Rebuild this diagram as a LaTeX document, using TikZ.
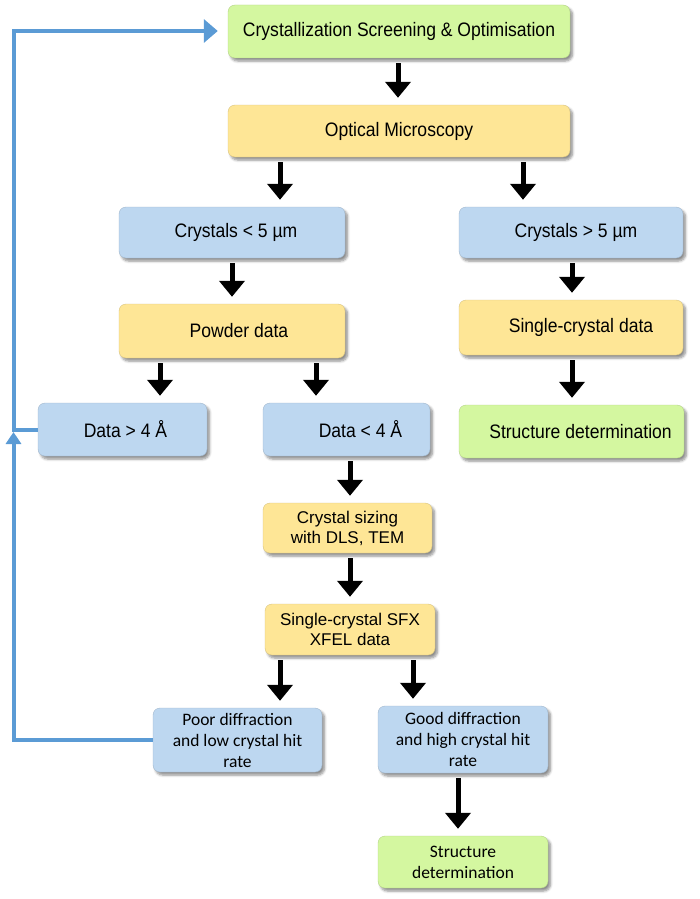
\documentclass[tikz,border=0pt]{standalone}
\usepackage{fontspec}
\setmainfont{Liberation Sans}
\newfontfamily\condfont[FakeStretch=0.9]{Liberation Sans}
\newfontfamily\calfont{Carlito}
\usetikzlibrary{arrows.meta,shadows.blur}
\definecolor{gfill}{RGB}{212,247,160}
\definecolor{yfill}{RGB}{254,230,150}
\definecolor{bfill}{RGB}{189,215,240}
\definecolor{fbline}{RGB}{91,155,213}
\begin{document}
\begin{tikzpicture}[x=1pt,y=-1pt,
  box/.style={rounded corners=7pt, align=center, inner sep=2pt,
    font=\condfont\fontsize{19.5}{22}\selectfont,
    blur shadow={shadow xshift=2.5pt, shadow yshift=-3pt, shadow blur steps=6, shadow blur radius=2.5pt, shadow opacity=45}},
  gbox/.style={box, fill=gfill, draw=gfill!85!black, line width=0.4pt},
  ybox/.style={box, fill=yfill, draw=yfill!85!black, line width=0.4pt},
  bbox/.style={box, fill=bfill, draw=bfill!85!black, line width=0.4pt},
  arialtxt/.style={font=\fontsize{17}{20}\selectfont},
  calitxt/.style={font=\calfont\fontsize{17.5}{21}\selectfont},
  blk/.style={line width=5pt, -{Triangle[width=25pt,length=16pt]}, shorten <=5pt, shorten >=7pt},
  fb/.style={line width=4pt, draw=fbline},
  fbarr/.style={fb, -{Triangle[width=15pt,length=12pt]}}
]
\useasboundingbox (0,0) rectangle (700,899);

\node[gbox, minimum width=342pt, minimum height=53pt] (cs) at (399,31.5) {Crystallization Screening \& Optimisation};
\node[ybox, minimum width=342pt, minimum height=52pt] (om) at (399,131) {Optical Microscopy};
\node[bbox, minimum width=226pt, minimum height=51pt] (cl) at (232,232.5) {\hspace*{8pt}Crystals < 5 µm};
\node[bbox, minimum width=224pt, minimum height=51pt] (cg) at (571,232.5) {\hspace*{10pt}Crystals > 5 µm};
\node[ybox, minimum width=226pt, minimum height=54pt] (pd) at (232,331) {\hspace*{14pt}Powder data};
\node[ybox, minimum width=224pt, minimum height=55pt] (sc) at (571,327.5) {\hspace*{20pt}Single-crystal data};
\node[bbox, minimum width=169pt, minimum height=53pt] (dg) at (122.5,429.5) {\hspace*{6pt}Data > 4 Å};
\node[bbox, minimum width=167pt, minimum height=53pt] (dl) at (346.5,429.5) {\hspace*{28pt}Data < 4 Å};
\node[gbox, minimum width=225pt, minimum height=53pt] (sd1) at (571.5,431.5) {\hspace*{18pt}Structure determination};
\node[ybox, arialtxt, minimum width=169pt, minimum height=50pt] (cz) at (347.5,528) {Crystal sizing\\with DLS, TEM};
\node[ybox, arialtxt, minimum width=170pt, minimum height=51pt] (sx) at (350,629.5) {Single-crystal SFX\\XFEL data};
\node[bbox, calitxt, minimum width=169pt, minimum height=64pt] (pr) at (237.5,740) {Poor diffraction\\and low crystal hit\\rate};
\node[bbox, calitxt, minimum width=170pt, minimum height=67pt] (gd) at (463,739.5) {Good diffraction\\and high crystal hit\\rate};
\node[gbox, calitxt, minimum width=170pt, minimum height=52pt] (sd2) at (463,862) {Structure\\determination};

% x positions of the black arrows
\coordinate (x1) at (398,0);
\coordinate (x2) at (280,0);
\coordinate (x3) at (523,0);
\coordinate (x4) at (232,0);
\coordinate (x5) at (572,0);
\coordinate (x6) at (160,0);
\coordinate (x7) at (316,0);
\coordinate (x8) at (350,0);
\coordinate (x9) at (413,0);
\coordinate (x10) at (458,0);

\draw[blk] (cs.south -| x1) -- (om.north -| x1);
\draw[blk] (om.south -| x2) -- (cl.north -| x2);
\draw[blk] (om.south -| x3) -- (cg.north -| x3);
\draw[blk] (cl.south -| x4) -- (pd.north -| x4);
\draw[blk] (cg.south -| x5) -- (sc.north -| x5);
\draw[blk] (pd.south -| x6) -- (dg.north -| x6);
\draw[blk] (pd.south -| x7) -- (dl.north -| x7);
\draw[blk] (sc.south -| x5) -- (sd1.north -| x5);
\draw[blk] (dl.south -| x8) -- (cz.north -| x8);
\draw[blk] (cz.south -| x8) -- (sx.north -| x8);
\draw[blk] (sx.south -| x2) -- (pr.north -| x2);
\draw[blk] (sx.south -| x9) -- (gd.north -| x9);
\draw[blk] (gd.south -| x10) -- (sd2.north -| x10);

% feedback loop
\coordinate (fbup) at (13.5,432);
\coordinate (fbtop) at (13.5,31);
\draw[fb] (dg.west) -- (dg.west -| fbup);
\draw[fbarr] (pr.west) -| (fbup);
\draw[fb, -{Triangle[width=23pt,length=14pt]}, shorten >=10pt] (fbup) -- (fbtop) -- (fbtop -| cs.west);
\end{tikzpicture}
\end{document}
